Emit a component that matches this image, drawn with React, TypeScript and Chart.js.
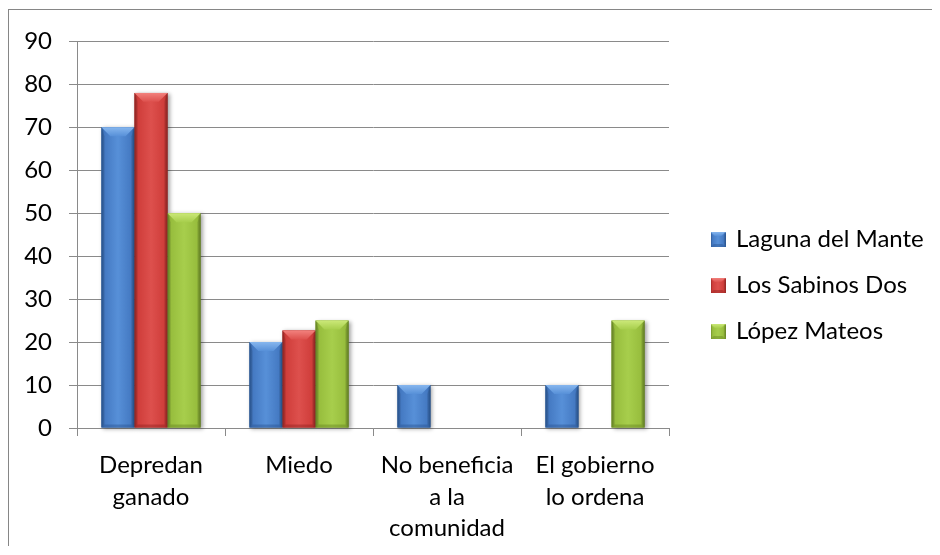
import React, { useEffect, useRef } from "react";
import { Chart, registerables } from "chart.js";

Chart.register(...registerables);

// ---- Data ----
const categories: string[][] = [
  ["Depredan", "ganado"],
  ["Miedo"],
  ["No beneficia", "a la", "comunidad"],
  ["El gobierno", "lo ordena"],
];
const seriesNames = ["Laguna del Mante", "Los Sabinos Dos", "López Mateos"];
const lagunaDelMante = [70, 20, 10, 10];
const losSabinosDos = [78, 22.7, 0, 0];
const lopezMateos = [50, 25, 0, 25];
const yMin = 0;
const yMax = 90;
const yStep = 10;

// ---- Styles ----
const palettes = [
  { mid: "#4479c2", light: "#5790d8", dark: "#2b5a98", top: "#86b6ee", bottom: "#2a5592" },
  { mid: "#cf3d3a", light: "#dd504d", dark: "#9a2725", top: "#f2817d", bottom: "#922220" },
  { mid: "#97bd3d", light: "#a7ce4c", dark: "#6c8b27", top: "#cbe878", bottom: "#678522" },
];
const GRID = "#8a8a8a";
const FONT = "Lato, 'Noto Sans', sans-serif";

function drawBevel(ctx: CanvasRenderingContext2D, l: number, t: number, w: number, h: number, pal: any, shadow: boolean) {
  ctx.save();
  if (shadow) {
    ctx.shadowColor = "rgba(0,0,0,0.35)";
    ctx.shadowBlur = 4;
    ctx.shadowOffsetX = 2;
    ctx.shadowOffsetY = 1;
  }
  const g = ctx.createLinearGradient(l, 0, l + w, 0);
  g.addColorStop(0, pal.dark);
  g.addColorStop(0.1, pal.mid);
  g.addColorStop(0.5, pal.light);
  g.addColorStop(0.9, pal.mid);
  g.addColorStop(1, pal.dark);
  ctx.fillStyle = g;
  ctx.fillRect(l, t, w, h);
  ctx.restore();

  ctx.save();
  const b = Math.min(w * 0.27, h * 0.5, 9);
  const bb = Math.min(b, 3);
  // left/right darker edges
  ctx.fillStyle = "rgba(0,0,0,0.10)";
  ctx.beginPath();
  ctx.moveTo(l, t);
  ctx.lineTo(l + b * 0.35, t + b);
  ctx.lineTo(l + b * 0.35, t + h - bb);
  ctx.lineTo(l, t + h);
  ctx.closePath();
  ctx.fill();
  ctx.beginPath();
  ctx.moveTo(l + w, t);
  ctx.lineTo(l + w - b * 0.35, t + b);
  ctx.lineTo(l + w - b * 0.35, t + h - bb);
  ctx.lineTo(l + w, t + h);
  ctx.closePath();
  ctx.fill();
  // top bevel
  const tg = ctx.createLinearGradient(0, t, 0, t + b);
  tg.addColorStop(0, pal.top);
  tg.addColorStop(1, pal.light);
  ctx.fillStyle = tg;
  ctx.beginPath();
  ctx.moveTo(l, t);
  ctx.lineTo(l + w, t);
  ctx.lineTo(l + w - b, t + b);
  ctx.lineTo(l + b, t + b);
  ctx.closePath();
  ctx.fill();
  // bottom bevel
  ctx.fillStyle = pal.bottom;
  ctx.globalAlpha = 0.45;
  ctx.beginPath();
  ctx.moveTo(l, t + h);
  ctx.lineTo(l + w, t + h);
  ctx.lineTo(l + w - bb, t + h - bb);
  ctx.lineTo(l + bb, t + h - bb);
  ctx.closePath();
  ctx.fill();
  ctx.restore();
}

const bevelPlugin = {
  id: "bevelBars",
  afterDatasetsDraw(chart: any) {
    const ctx = chart.ctx;
    chart.data.datasets.forEach((_ds: any, i: number) => {
      const meta = chart.getDatasetMeta(i);
      if (meta.hidden) return;
      meta.data.forEach((el: any) => {
        const { x, y, base, width } = el.getProps(["x", "y", "base", "width"], true);
        const h = base - y;
        if (h < 1) return;
        drawBevel(ctx, x - width / 2, y, width, h, palettes[i], true);
      });
    });
  },
};

const LEGEND_GAP = 21;
const LEGEND_DY = -8;
const legendShift = {
  id: "legendShift",
  afterLayout(chart: any) {
    const lg = chart.legend;
    if (!lg) return;
    const dx = chart.chartArea.right + LEGEND_GAP - lg.left;
    lg.left += dx;
    lg.right = chart.width;
    lg.width = lg.right - lg.left;
    lg.top += LEGEND_DY;
    lg.bottom += LEGEND_DY;
  },
};

function makeLegendIcon(pal: any) {
  const c = document.createElement("canvas");
  c.width = 15;
  c.height = 15;
  const cx = c.getContext("2d");
  if (cx) drawBevel(cx, 0, 0, 15, 15, pal, false);
  return c;
}

export default function App() {
  const ref = useRef<HTMLCanvasElement | null>(null);

  useEffect(() => {
    if (!ref.current) return;
    const icons = palettes.map((p) => makeLegendIcon(p));
    const seriesValues = [lagunaDelMante, losSabinosDos, lopezMateos];
    const chart = new Chart(ref.current, {
      type: "bar",
      data: {
        labels: categories,
        datasets: seriesNames.map((name, i) => ({
          label: name,
          data: seriesValues[i],
          backgroundColor: palettes[i].mid,
          borderWidth: 0,
          barPercentage: 1.0,
          categoryPercentage: 0.67,
        })),
      },
      options: {
        responsive: false,
        animation: false,
        devicePixelRatio: 1,
        font: { family: FONT, size: 24 },
        layout: { padding: { top: 30, left: 0, right: 43, bottom: 0 } },
        plugins: {
          tooltip: { enabled: false },
          legend: {
            position: "right",
            align: "center",
            labels: {
              color: "#000",
              font: { family: FONT, size: 24 },
              boxWidth: 12,
              boxHeight: 15,
              padding: 22,
              usePointStyle: true,
              generateLabels: (ch: any) =>
                ch.data.datasets.map((ds: any, i: number) => ({
                  text: ds.label,
                  fillStyle: palettes[i].mid,
                  strokeStyle: palettes[i].mid,
                  lineWidth: 0,
                  hidden: false,
                  datasetIndex: i,
                  pointStyle: icons[i],
                  fontColor: "#000",
                })),
            },
          },
        },
        scales: {
          x: {
            offset: true,
            grid: {
              display: true,
              drawOnChartArea: false,
              drawTicks: true,
              tickLength: 8,
              color: GRID,
              offset: true,
            },
            border: { display: true, color: GRID },
            ticks: {
              color: "#000",
              font: { family: FONT, size: 24, lineHeight: 1.3 },
              padding: 14,
              autoSkip: false,
              maxRotation: 0,
              minRotation: 0,
            },
            afterFit: (s: any) => {
              s.height = 119;
            },
          },
          y: {
            min: yMin,
            max: yMax,
            grid: { color: GRID, drawTicks: true, tickLength: 8 },
            border: { display: true, color: GRID },
            ticks: {
              stepSize: yStep,
              color: "#000",
              font: { family: FONT, size: 24 },
              padding: 17,
            },
            afterFit: (s: any) => {
              s.width = 68;
            },
          },
        },
      },
      plugins: [bevelPlugin, legendShift],
    });
    return () => chart.destroy();
  }, []);

  return (
    <div
      style={{
        position: "relative",
        top: 1,
        width: 924,
        height: 538,
        borderLeft: "1px solid #868686",
        borderTop: "1px solid #868686",
        boxSizing: "border-box",
        background: "#fff",
      }}
    >
      <canvas ref={ref} width={923} height={537} style={{ display: "block" }} />
    </div>
  );
}
